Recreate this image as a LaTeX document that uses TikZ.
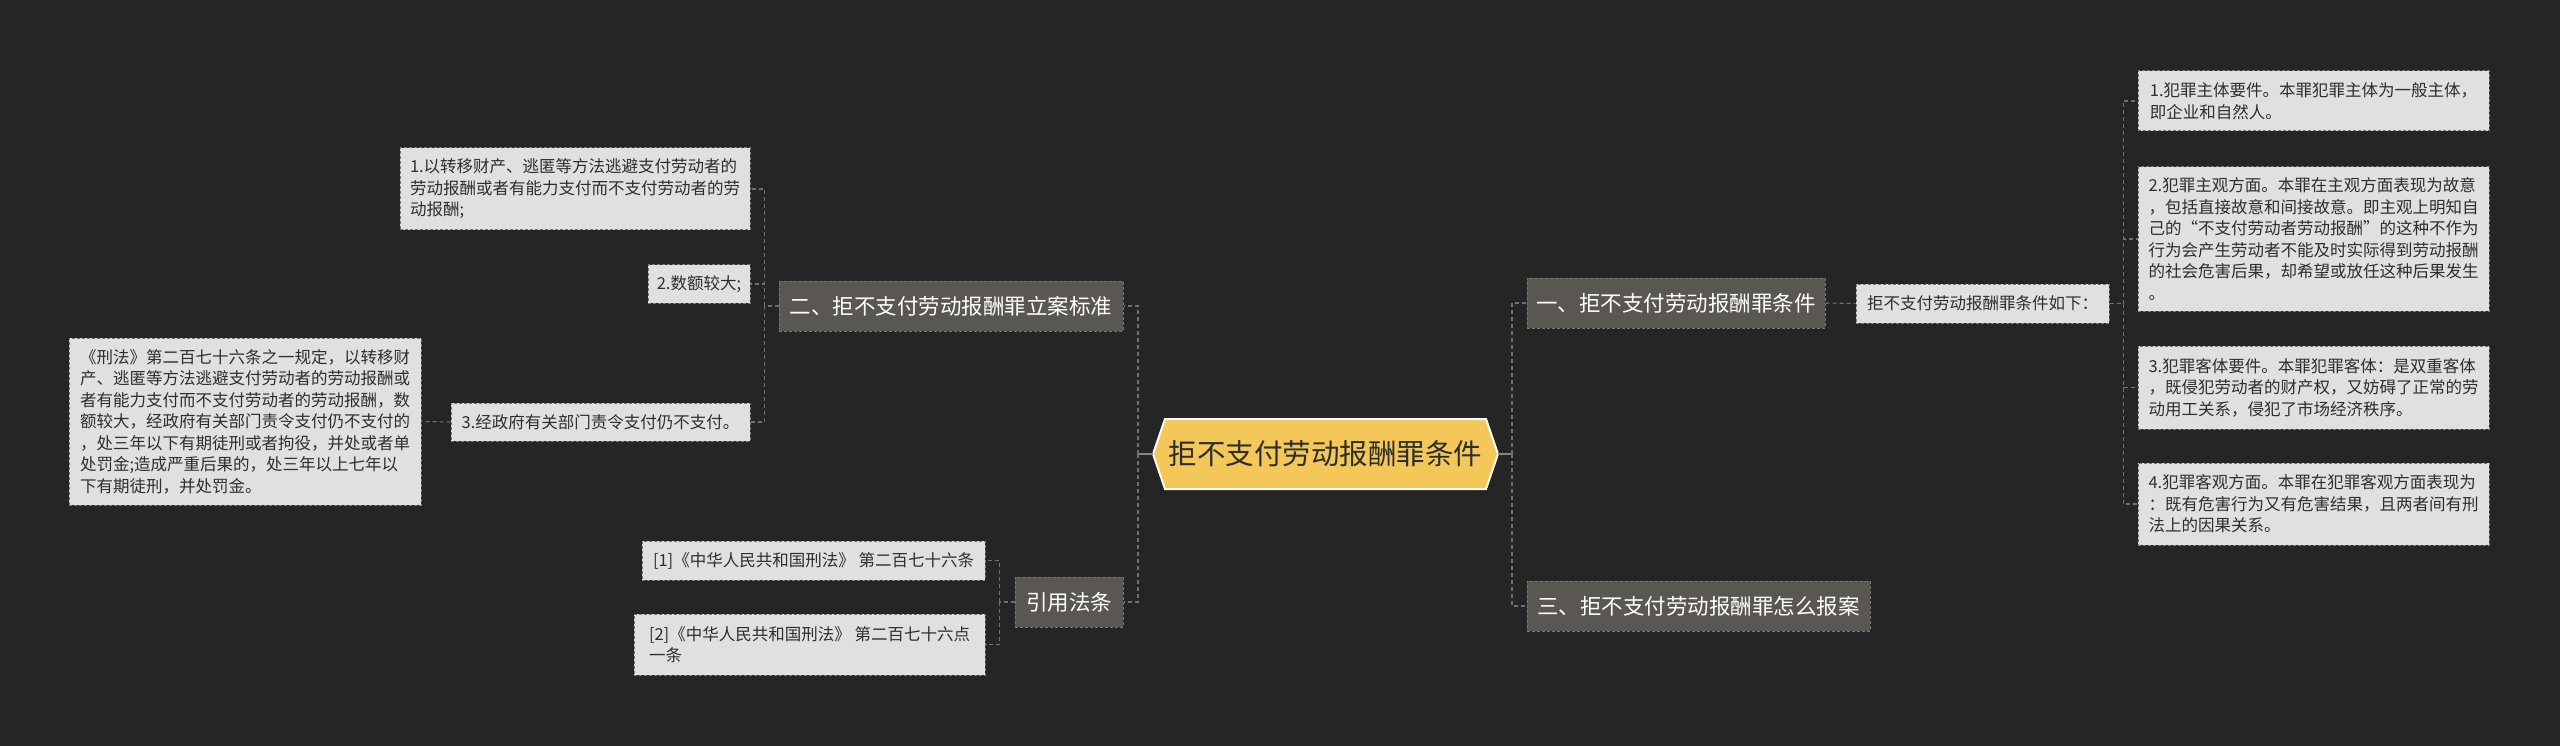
\documentclass[tikz,border=0pt]{standalone}
\usepackage{fontspec}
\setmainfont{Noto Sans CJK SC}
\definecolor{bgc}{HTML}{252525}
\definecolor{leaffill}{HTML}{E0E0E0}
\definecolor{leafline}{HTML}{777777}
\definecolor{leaftext}{HTML}{2E2E2E}
\definecolor{brfill}{HTML}{5A5652}
\definecolor{brline}{HTML}{7A7671}
\definecolor{connc}{HTML}{707070}
\definecolor{ctrfill}{HTML}{F4C759}
\begin{document}
\begin{tikzpicture}[x=1pt,y=-1pt,
  leaf/.style={fill=leaffill, draw=leafline, dash pattern=on 3pt off 2pt, line width=1pt,
    text=leaftext, font=\fontsize{16.5}{21.5}\selectfont, align=left, inner xsep=4pt, inner ysep=2pt},
  branch/.style={fill=brfill, draw=brline, dash pattern=on 3pt off 2pt, line width=1pt,
    text=white, font=\fontsize{21.5}{26}\selectfont, inner sep=2pt, minimum height=50pt},
  conn/.style={draw=connc, line width=1.6pt, dash pattern=on 4pt off 3pt},
  thinconn/.style={conn, line width=1.1pt},
  trunk/.style={draw=connc!85!white, line width=2pt}]
\useasboundingbox (0,0) rectangle (2560,746);
\fill[bgc] (0,0) rectangle (2560,746);

% centre hexagon
\filldraw[fill=ctrfill, draw=white!92!ctrfill, line width=2pt]
  (1153,454) -- (1165,419) -- (1486,419) -- (1498,454) -- (1486,489) -- (1165,489) -- cycle;
\node[minimum width=345pt, minimum height=70pt, inner sep=0pt, text=leaftext,
  font=\fontsize{28.5}{32}\selectfont] (c) at (1325.5,454) {拒不支付劳动报酬罪条件};

% branches
\node[branch, minimum width=344pt] (b2) at (951,306) {二、拒不支付劳动报酬罪立案标准};
\node[branch, minimum width=108pt] (bref) at (1069,602) {引用法条};
\node[branch, minimum width=298pt] (b1) at (1676,303) {一、拒不支付劳动报酬罪条件};
\node[branch, minimum width=343pt] (b3) at (1698.5,606) {三、拒不支付劳动报酬罪怎么报案};

% left leaves
\node[leaf, minimum width=350pt, minimum height=82pt] (l1) at (575,189)
  {1.以转移财产、逃匿等方法逃避支付劳动者的\\劳动报酬或者有能力支付而不支付劳动者的劳\\动报酬;};
\node[leaf, minimum width=102pt, minimum height=38pt] (l2) at (699,284) {2.数额较大;};
\node[leaf, minimum width=299pt, minimum height=38pt] (l3) at (600.5,422) {3.经政府有关部门责令支付仍不支付。};
\node[leaf, minimum width=352pt, minimum height=167pt] (law) at (245,421.5)
  {《刑法》第二百七十六条之一规定，以转移财\\产、逃匿等方法逃避支付劳动者的劳动报酬或\\者有能力支付而不支付劳动者的劳动报酬，数\\额较大，经政府有关部门责令支付仍不支付的\\，处三年以下有期徒刑或者拘役，并处或者单\\处罚金;造成严重后果的，处三年以上七年以\\下有期徒刑，并处罚金。};

% references
\node[leaf, minimum width=343pt, minimum height=39pt] (ref1) at (813.5,560.5)
  {[1]《中华人民共和国刑法》 第二百七十六条};
\node[leaf, minimum width=351pt, minimum height=61pt] (ref2) at (809.5,644.5)
  {[2]《中华人民共和国刑法》 第二百七十六点\\一条};

% right leaves
\node[leaf, minimum width=253pt, minimum height=39pt] (r0) at (1982.5,303.5) {拒不支付劳动报酬罪条件如下：};
\node[leaf, minimum width=351pt, minimum height=60pt] (r1) at (2313.5,101)
  {1.犯罪主体要件。本罪犯罪主体为一般主体，\\即企业和自然人。};
\node[leaf, minimum width=351pt, minimum height=144pt] (r2) at (2313.5,239)
  {2.犯罪主观方面。本罪在主观方面表现为故意\\，包括直接故意和间接故意。即主观上明知自\\己的“不支付劳动者劳动报酬”的这种不作为\\行为会产生劳动者不能及时实际得到劳动报酬\\的社会危害后果，却希望或放任这种后果发生\\。};
\node[leaf, minimum width=351pt, minimum height=83pt] (r3) at (2313.5,387.5)
  {3.犯罪客体要件。本罪犯罪客体：是双重客体\\，既侵犯劳动者的财产权，又妨碍了正常的劳\\动用工关系，侵犯了市场经济秩序。};
\node[leaf, minimum width=351pt, minimum height=82pt] (r4) at (2313.5,504)
  {4.犯罪客观方面。本罪在犯罪客观方面表现为\\：既有危害行为又有危害结果，且两者间有刑\\法上的因果关系。};

% connectors: centre
\draw[trunk] (c.west) -- ++(-15,0) coordinate (cl);
\draw[conn] (cl) |- (b2.east);
\draw[conn] (cl) |- (bref.east);
\draw[trunk] (c.east) -- ++(14,0) coordinate (cr);
\draw[conn] (cr) |- (b1.west);
\draw[conn] (cr) |- (b3.west);

% left subtree
\draw[thinconn] (b2.west) -- ++(-14,0) coordinate (lb);
\draw[thinconn] (lb) |- (l1.east);
\draw[thinconn] (lb) |- (l2.east);
\draw[thinconn] (lb) |- (l3.east);
\draw[thinconn] (l3.west) -- (law.east);

% references
\draw[thinconn] (bref.west) -- ++(-15,0) coordinate (rfb);
\draw[thinconn] (rfb) |- (ref1.east);
\draw[thinconn] (rfb) |- (ref2.east);

% right subtree
\draw[thinconn] (b1.east) -- (r0.west);
\draw[thinconn] (r0.east) -- ++(14,0) coordinate (rb);
\draw[thinconn] (rb) |- (r1.west);
\draw[thinconn] (rb) |- (r2.west);
\draw[thinconn] (rb) |- (r3.west);
\draw[thinconn] (rb) |- (r4.west);
\end{tikzpicture}
\end{document}
